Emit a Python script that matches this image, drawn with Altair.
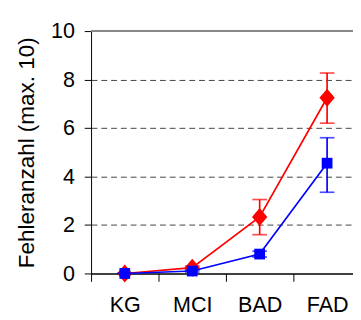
import json
import altair as alt
import pandas as pd

categories = ["KG", "MCI", "BAD", "FAD"]
series_names = ["rot", "blau"]
red_mean = [0.0, 0.24, 2.33, 7.25]
red_lo = [0.0, 0.17, 1.6, 6.2]
red_hi = [0.0, 0.31, 3.05, 8.27]
blue_mean = [0.0, 0.1, 0.8, 4.55]
blue_lo = [0.0, 0.06, 0.68, 3.35]
blue_hi = [0.0, 0.14, 0.92, 5.6]
y_ticks = [0, 2, 4, 6, 8, 10]

rows = []
for name, m, lo, hi in [("rot", red_mean, red_lo, red_hi), ("blau", blue_mean, blue_lo, blue_hi)]:
    for i, c in enumerate(categories):
        rows.append({"series": name, "cat": c, "x": i + 0.5, "mean": m[i], "lo": lo[i], "hi": hi[i]})
df = pd.DataFrame(rows)

FONT = "Liberation Sans"
W, H = 268, 248
step = 69.0
xdom = [0, W / step]

xscale = alt.Scale(domain=xdom, nice=False, zero=False)
yscale = alt.Scale(domain=[0, 10], nice=False)

label_expr = "datum.value % 1 == 0 ? '' : " + json.dumps(categories) + "[floor(datum.value)]"

x_axis = alt.Axis(
    values=[0, 0.5, 1, 1.5, 2, 2.5, 3, 3.5],
    labelExpr=label_expr,
    tickOpacity={"condition": {"test": "datum.value % 1 != 0", "value": 0}, "value": 1},
    tickSize=8, tickColor="black", tickWidth=1,
    domainColor="black", domainWidth=1.5,
    labelFontSize=22, labelFont=FONT, labelColor="black", labelPadding=14,
    grid=False, title=None, labelFlush=False,
)
y_axis = alt.Axis(
    values=y_ticks,
    title="Fehleranzahl (max. 10)",
    titleFontSize=23, titleFont=FONT, titleFontWeight="normal", titleColor="black",
    titlePadding=12,
    labelFontSize=22, labelFont=FONT, labelColor="black", labelPadding=10,
    tickSize=7, tickColor="black", tickWidth=1,
    domainColor="black", domainWidth=1,
    grid=True, gridDash=[6, 4], gridColor="#444", gridWidth=1,
    gridOpacity={"condition": {"test": "datum.value == 0 || datum.value == 10", "value": 0}, "value": 1},
)

base = alt.Chart(df)

top_rule = alt.Chart(pd.DataFrame({"v": [10]})).mark_rule(color="#888", strokeWidth=2).encode(
    y=alt.Y("v:Q", scale=yscale, axis=y_axis)
)

layers = [top_rule]
styles = {
    "rot": ("#ff0000", "M-0.85,0L0,-1L0.85,0L0,1Z", 340),
    "blau": ("#0000ff", "square", 121),
}
for name in series_names:
    col, shape, size = styles[name]
    d = base.transform_filter(alt.datum.series == name)
    xe = alt.X("x:Q", scale=xscale, axis=x_axis)
    ye = alt.Y("mean:Q", scale=yscale, axis=y_axis)
    line = d.mark_line(color=col, strokeWidth=1.7).encode(x=xe, y=ye)
    rule = d.mark_rule(color=col, strokeWidth=1.7).encode(x=xe, y=alt.Y("lo:Q", scale=yscale, axis=y_axis), y2="hi:Q")
    cap_hi = d.mark_tick(color=col, orient="horizontal", size=15, thickness=1.7).encode(x=xe, y=alt.Y("hi:Q", scale=yscale, axis=y_axis))
    cap_lo = d.mark_tick(color=col, orient="horizontal", size=15, thickness=1.7).encode(x=xe, y=alt.Y("lo:Q", scale=yscale, axis=y_axis))
    pts = d.mark_point(color=col, filled=True, opacity=1, shape=shape, size=size).encode(x=xe, y=ye)
    layers += [line, rule, cap_hi, cap_lo, pts]

chart = alt.layer(*layers).properties(
    width=W, height=H,
    autosize=alt.AutoSizeParams(type="none"),
    padding={"left": 85, "top": 20, "right": 0, "bottom": 44},
).configure_view(stroke=None)

chart.save("out.html", embed_options={"renderer": "svg", "actions": False})
